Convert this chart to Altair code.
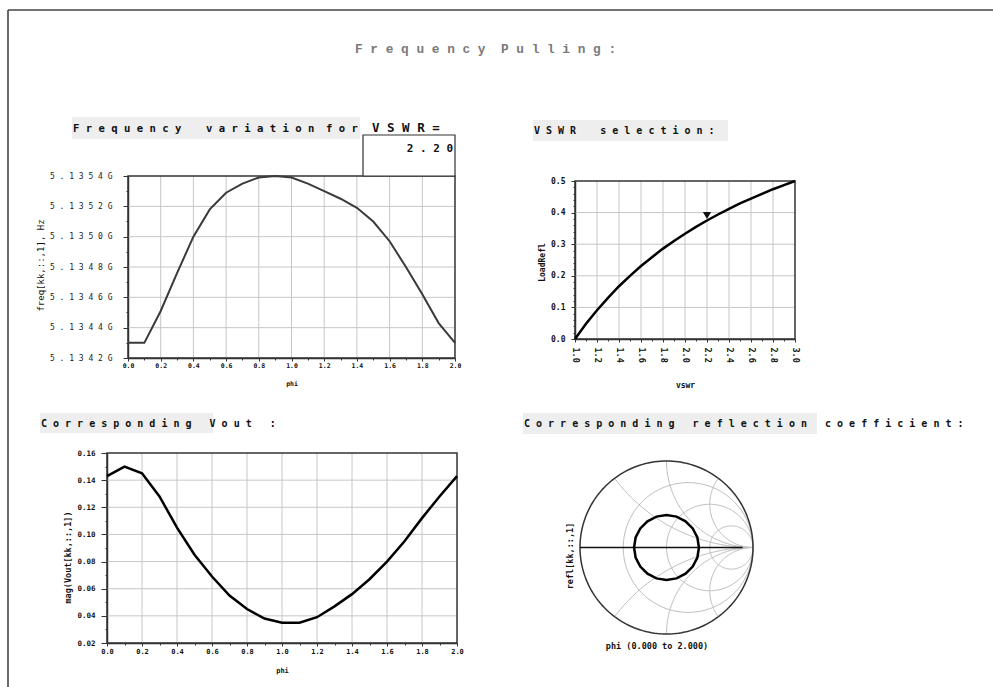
import altair as alt
import numpy as np
import pandas as pd

W, H = 993, 687
MONO = "DejaVu Sans Mono"
INK = "#333333"
GRID = "#c6c6c6"
BOX = "#eeeeee"

# ---------------- data ----------------
phi = [0.0, 0.1, 0.2, 0.3, 0.4, 0.5, 0.6, 0.7, 0.8, 0.9, 1.0,
       1.1, 1.2, 1.3, 1.4, 1.5, 1.6, 1.7, 1.8, 1.9, 2.0]

# oscillation frequency (GHz) versus load phase
freq_ghz = [5.13430, 5.13430, 5.13451, 5.13476, 5.13500, 5.13518, 5.13529,
            5.13535, 5.13539, 5.13540, 5.13539, 5.13535, 5.13530, 5.13525,
            5.13519, 5.13510, 5.13497, 5.13480, 5.13462, 5.13443, 5.13430]

# output voltage magnitude versus load phase
vout_mag = [0.143, 0.150, 0.145, 0.128, 0.105, 0.085, 0.069, 0.055, 0.045,
            0.038, 0.035, 0.035, 0.039, 0.047, 0.056, 0.067, 0.080, 0.095,
            0.112, 0.128, 0.143]

# load reflection magnitude versus VSWR
vswr = [1.0, 1.1, 1.2, 1.3, 1.4, 1.5, 1.6, 1.7, 1.8, 1.9, 2.0,
        2.1, 2.2, 2.3, 2.4, 2.5, 2.6, 2.7, 2.8, 2.9, 3.0]
load_refl = [0.000, 0.048, 0.091, 0.130, 0.167, 0.200, 0.231, 0.259, 0.286,
             0.310, 0.333, 0.355, 0.375, 0.394, 0.412, 0.429, 0.444, 0.459,
             0.474, 0.487, 0.500]
vswr_sel = 2.2
refl_sel = 0.375

# reflection coefficient swept over phi (real / imaginary parts)
refl_re = [0.375, 0.357, 0.303, 0.220, 0.116, 0.000, -0.116, -0.220, -0.303,
           -0.357, -0.375, -0.357, -0.303, -0.220, -0.116, 0.000, 0.116,
           0.220, 0.303, 0.357, 0.375]
refl_im = [0.000, 0.116, 0.220, 0.303, 0.357, 0.375, 0.357, 0.303, 0.220,
           0.116, 0.000, -0.116, -0.220, -0.303, -0.357, -0.375, -0.357,
           -0.303, -0.220, -0.116, 0.000]

# Smith chart grid: constant-resistance circles and constant-reactance arcs
smith_r = [1.0 / 3.0, 1.0, 3.0]
smith_x = [0.5, 1.0, 2.0]

# axis tick values
a_xticks = [0.0, 0.2, 0.4, 0.6, 0.8, 1.0, 1.2, 1.4, 1.6, 1.8, 2.0]
a_xminor = [0.1, 0.3, 0.5, 0.7, 0.9, 1.1, 1.3, 1.5, 1.7, 1.9]
a_yticks = [5.1342, 5.1344, 5.1346, 5.1348, 5.1350, 5.1352, 5.1354]
a_yminor = [5.1343, 5.1345, 5.1347, 5.1349, 5.1351, 5.1353]
b_xticks = [1.0, 1.2, 1.4, 1.6, 1.8, 2.0, 2.2, 2.4, 2.6, 2.8, 3.0]
b_xminor = [1.1, 1.3, 1.5, 1.7, 1.9, 2.1, 2.3, 2.5, 2.7, 2.9]
b_yticks = [0.0, 0.1, 0.2, 0.3, 0.4, 0.5]
b_yminor = [0.02, 0.04, 0.06, 0.08, 0.12, 0.14, 0.16, 0.18, 0.22, 0.24,
            0.26, 0.28, 0.32, 0.34, 0.36, 0.38, 0.42, 0.44, 0.46, 0.48]
c_xticks = a_xticks
c_xminor = a_xminor
c_yticks = [0.02, 0.04, 0.06, 0.08, 0.10, 0.12, 0.14, 0.16]
c_yminor = [0.03, 0.05, 0.07, 0.09, 0.11, 0.13, 0.15]


# ---------------- helpers ----------------
def nb(s):
    """Keep runs of spaces from collapsing in SVG text."""
    return s.replace(" ", "\u00a0")


def text_layer(text, x, y, size=10, font=MONO, weight="bold", color="#111111",
               align="left", baseline="alphabetic", angle=0):
    return alt.Chart(pd.DataFrame({"t": [nb(text)]})).mark_text(
        font=font, fontSize=size, fontWeight=weight, color=color,
        align=align, baseline=baseline, angle=angle,
    ).encode(x=alt.value(x), y=alt.value(y), text="t:N")


def rect_layer(x0, x1, y0, y1, fill, stroke=None, sw=1.0):
    kw = dict(fill=fill)
    if stroke:
        kw.update(stroke=stroke, strokeWidth=sw)
    return alt.Chart(pd.DataFrame({"a": [0]})).mark_rect(**kw).encode(
        x=alt.value(x0), x2=alt.value(x1), y=alt.value(y0), y2=alt.value(y1))


def xy_panel(data, xf, yf, xdom, ydom, xpx, ypx, xticks, xminor, yticks, yminor,
             xaxis_kw, yaxis_kw, line_kw, extras=None):
    sx = alt.Scale(domain=xdom, range=xpx, nice=False, zero=False)
    sy = alt.Scale(domain=ydom, range=ypx, nice=False, zero=False)
    xoff = ypx[0] - H      # bottom axis on the lower edge of the plot box
    yoff = -xpx[0]         # left axis on the left edge of the plot box

    gx = pd.DataFrame({"v": xticks[1:-1]})
    gx["lo"], gx["hi"] = ydom[0], ydom[1]
    gy = pd.DataFrame({"v": yticks[1:-1]})
    gy["lo"], gy["hi"] = xdom[0], xdom[1]

    grid_x = alt.Chart(gx).mark_rule(color=GRID, strokeWidth=1).encode(
        x=alt.X("v:Q", scale=sx, axis=None),
        y=alt.Y("lo:Q", scale=sy, axis=None), y2="hi")
    grid_y = alt.Chart(gy).mark_rule(color=GRID, strokeWidth=1).encode(
        y=alt.Y("v:Q", scale=sy, axis=None),
        x=alt.X("lo:Q", scale=sx, axis=None), x2="hi")

    box = pd.DataFrame({"x0": [xdom[0]], "x1": [xdom[1]],
                        "y0": [ydom[0]], "y1": [ydom[1]]})
    frame = alt.Chart(box).mark_rect(filled=False, color=INK, strokeWidth=1.5).encode(
        x=alt.X("x0:Q", scale=sx, axis=alt.Axis(
            orient="bottom", offset=xoff, values=xminor, labels=False,
            domain=False, grid=False, tickSize=2, tickColor=INK, title=None)),
        x2="x1",
        y=alt.Y("y0:Q", scale=sy, axis=alt.Axis(
            orient="left", offset=yoff, values=yminor, labels=False,
            domain=False, grid=False, tickSize=2, tickColor=INK, title=None)),
        y2="y1")

    curve = alt.Chart(data).mark_line(**line_kw).encode(
        x=alt.X(f"{xf}:Q", scale=sx, axis=alt.Axis(
            orient="bottom", offset=xoff, values=xticks, **xaxis_kw)),
        y=alt.Y(f"{yf}:Q", scale=sy, axis=alt.Axis(
            orient="left", offset=yoff, values=yticks, **yaxis_kw)),
    )
    layers = [grid_x, grid_y, frame, curve]
    if extras is not None:
        layers += extras(sx, sy)
    return alt.layer(*layers).resolve_axis(x="independent", y="independent")


# ---------------- panel A: frequency variation ----------------
df_a = pd.DataFrame({"phi": phi, "freq": freq_ghz})
panel_a = xy_panel(
    df_a, "phi", "freq", [0.0, 2.0], [5.1342, 5.1354], [128, 455], [358, 176],
    a_xticks, a_xminor, a_yticks, a_yminor,
    xaxis_kw=dict(format=".1f", tickSize=3, labelPadding=1, labelFontSize=6.5,
                  title="phi", titleFontSize=6.5, titleY=25, titleBaseline="middle"),
    yaxis_kw=dict(labelExpr="join(split(format(datum.value, '.4f') + 'G', ''), ' ')",
                  tickSize=5, labelPadding=11, labelFontSize=8,
                  labelFontWeight="normal", labelColor="#222222",
                  title="freq[kk,::,1], Hz", titleFontSize=9, titleFontWeight="normal",
                  titleX=-88, titleY=265, titleAngle=270, titleBaseline="middle"),
    line_kw=dict(color="#3a3a3a", strokeWidth=2),
)

# ---------------- panel B: VSWR selection ----------------
df_b = pd.DataFrame({"vswr": vswr, "refl": load_refl})


def b_marker(sx, sy):
    sel = pd.DataFrame({"vswr": [vswr_sel], "refl": [refl_sel]})
    return [alt.Chart(sel).mark_point(shape="triangle-down", filled=True,
                                      color="#111111", size=70, opacity=1,
                                      yOffset=-5).encode(
        x=alt.X("vswr:Q", scale=sx, axis=None),
        y=alt.Y("refl:Q", scale=sy, axis=None))]


panel_b = xy_panel(
    df_b, "vswr", "refl", [1.0, 3.0], [0.0, 0.5], [575, 795], [339, 181],
    b_xticks, b_xminor, b_yticks, b_yminor,
    xaxis_kw=dict(format=".1f", tickSize=3, labelPadding=5, labelFontSize=8.5,
                  labelAngle=90, labelAlign="left", labelBaseline="middle",
                  title="vswr", titleFontSize=8, titleY=46, titleBaseline="middle"),
    yaxis_kw=dict(format=".1f", tickSize=4, labelPadding=6, labelFontSize=8,
                  title="LoadRefl", titleFontSize=8, titleX=-33, titleY=262,
                  titleAngle=270, titleBaseline="middle"),
    line_kw=dict(color="#000000", strokeWidth=2.5),
    extras=b_marker,
)

# ---------------- panel C: output voltage ----------------
df_c = pd.DataFrame({"phi": phi, "vout": vout_mag})
panel_c = xy_panel(
    df_c, "phi", "vout", [0.0, 2.0], [0.02, 0.16], [107, 457], [643, 453],
    c_xticks, c_xminor, c_yticks, c_yminor,
    xaxis_kw=dict(format=".1f", tickSize=3, labelPadding=1, labelFontSize=7,
                  title="phi", titleFontSize=7, titleY=27, titleBaseline="middle"),
    yaxis_kw=dict(format=".2f", tickSize=6, labelPadding=6, labelFontSize=7.5,
                  title="mag(Vout[kk,::,1])", titleFontSize=8.5, titleX=-40,
                  titleY=557, titleAngle=270, titleBaseline="middle"),
    line_kw=dict(color="#000000", strokeWidth=2.5),
)

# ---------------- panel D: Smith chart ----------------
ssx = alt.Scale(domain=[-1, 1], range=[580, 753], nice=False, zero=False)
ssy = alt.Scale(domain=[-1, 1], range=[634, 461], nice=False, zero=False)

rows = []
t = np.linspace(0, 2 * np.pi, 181)
for i, r in enumerate(smith_r):
    c, rad = r / (r + 1), 1 / (r + 1)
    for k, a in enumerate(t):
        rows.append((f"r{i}", k, c + rad * np.cos(a), rad * np.sin(a)))
for i, xv in enumerate(smith_x):
    rad = 1 / xv
    end = np.arctan2((xv ** 2 - 1) / (xv * (xv ** 2 + 1)), -2 / (xv ** 2 + 1))
    if end > -np.pi / 2:
        end -= 2 * np.pi
    angs = np.linspace(-np.pi / 2, end, 90)
    for sgn in (1, -1):
        for k, a in enumerate(angs):
            rows.append((f"x{i}{sgn}", k, 1 + rad * np.cos(a), sgn * (1 / xv + rad * np.sin(a))))
grid_df = pd.DataFrame(rows, columns=["id", "k", "gx", "gy"])
outer_df = pd.DataFrame({"k": range(len(t)), "gx": np.cos(t), "gy": np.sin(t)})

smith_grid = alt.Chart(grid_df).mark_line(color="#bdbdbd", strokeWidth=1).encode(
    x=alt.X("gx:Q", scale=ssx, axis=None), y=alt.Y("gy:Q", scale=ssy, axis=None),
    detail="id:N", order="k:Q")
real_axis = alt.Chart(pd.DataFrame({"a": [-1.0], "b": [1.0], "y": [0.0]})).mark_rule(
    color="#bdbdbd", strokeWidth=1).encode(
    x=alt.X("a:Q", scale=ssx, axis=None), x2="b", y=alt.Y("y:Q", scale=ssy, axis=None))
real_axis_dark = alt.Chart(pd.DataFrame({"a": [-1.0], "b": [0.88], "y": [0.0]})).mark_rule(
    color="#111111", strokeWidth=1.3).encode(
    x=alt.X("a:Q", scale=ssx, axis=None), x2="b", y=alt.Y("y:Q", scale=ssy, axis=None))
outer = alt.Chart(outer_df).mark_line(color=INK, strokeWidth=1.5).encode(
    x=alt.X("gx:Q", scale=ssx, axis=None), y=alt.Y("gy:Q", scale=ssy, axis=None),
    order="k:Q")
df_d = pd.DataFrame({"phi": phi, "re": refl_re, "im": refl_im})
refl_trace = alt.Chart(df_d).mark_line(color="#000000", strokeWidth=2.5).encode(
    x=alt.X("re:Q", scale=ssx, axis=None), y=alt.Y("im:Q", scale=ssy, axis=None),
    order="phi:Q")
panel_d = alt.layer(smith_grid, real_axis, outer, real_axis_dark, refl_trace)

# ---------------- page decorations and headings ----------------
page = [
    alt.Chart(pd.DataFrame({"a": [0]})).mark_rule(color="#444444", strokeWidth=1.6).encode(
        x=alt.value(8), y=alt.value(10), y2=alt.value(H)),
    alt.Chart(pd.DataFrame({"a": [0]})).mark_rule(color="#444444", strokeWidth=1.6).encode(
        x=alt.value(8), x2=alt.value(W), y=alt.value(10)),
    rect_layer(72, 360, 117, 139, BOX),
    rect_layer(533, 728, 120, 141, BOX),
    rect_layer(40, 213, 413, 433, BOX),
    rect_layer(523, 817, 413, 434, BOX),
    rect_layer(363, 455, 135, 176, "#ffffff", stroke=INK, sw=1.2),
]

headings = [
    text_layer("F r e q u e n c y  P u l l i n g :", 355, 53, size=12.8,
               font="Liberation Mono", weight="bold", color="#7a7a7a"),
    text_layer("F r e q u e n c y", 73, 132, size=10.6),
    text_layer("v a r i a t i o n", 206, 132, size=10.6),
    text_layer("f o r", 326, 132, size=10.6),
    text_layer("V S W R =", 372, 132, size=12.5),
    text_layer(" ".join(f"{vswr_sel:.2f}"), 453, 152, size=11, align="right"),
    text_layer("V S W R    s e l e c t i o n :", 534, 134, size=10),
    text_layer("C o r r e s p o n d i n g   V o u t   :", 41, 427, size=10),
    text_layer("C o r r e s p o n d i n g   r e f l e c t i o n   c o e f f i c i e n t :",
               524, 427, size=10),
    text_layer("refl[kk,::,1]", 570, 556, size=8.5, weight="bold", align="center",
               baseline="middle", angle=270),
    text_layer(f"phi ({phi[0]:.3f} to {phi[-1]:.3f})", 657, 646, size=8.5,
               weight="bold", align="center", baseline="middle"),
]

chart = alt.layer(
    *page[:6], panel_a, panel_b, panel_c, panel_d, page[6], *headings
).resolve_scale(
    x="independent", y="independent"
).properties(
    width=W, height=H, padding=0,
    autosize=alt.AutoSizeParams(type="none"),
    background="#ffffff",
).configure_view(
    strokeWidth=0
).configure_axis(
    domainColor=INK, domainWidth=1.5, tickColor=INK, tickWidth=1,
    labelFont=MONO, labelFontWeight="bold", labelColor="#111111",
    titleFont=MONO, titleFontWeight="bold", titleColor="#111111",
    labelOverlap=False, labelFlush=False, grid=False,
)

chart.save("out.html", embed_options={"renderer": "svg", "actions": False})
